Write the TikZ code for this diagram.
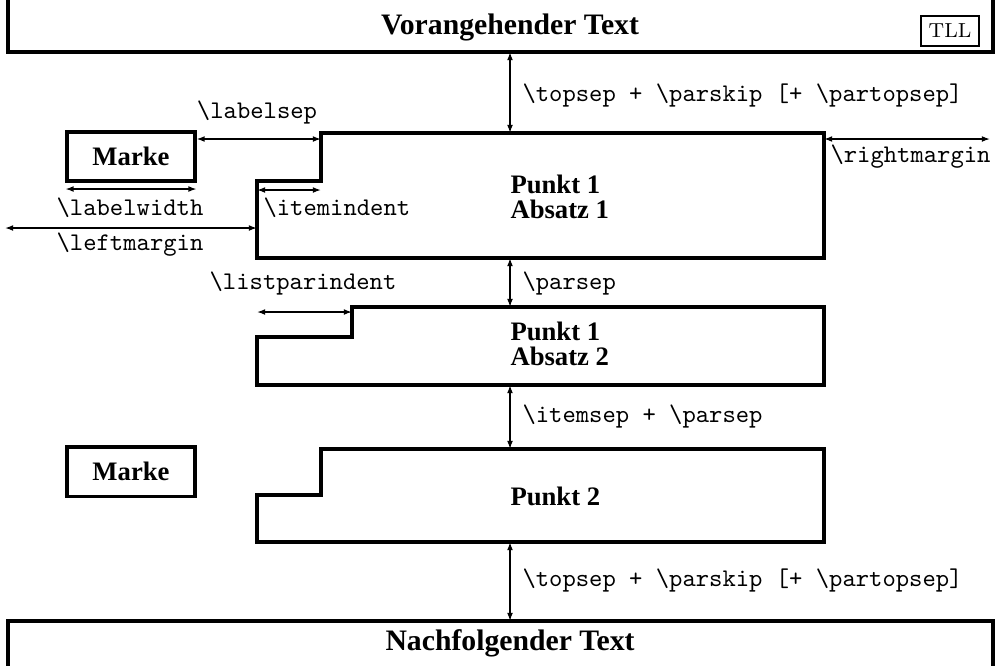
\documentclass[tikz,border=0pt]{standalone}
\usepackage{fontspec}
\newfontfamily\tms{Liberation Serif}
\usetikzlibrary{arrows.meta}
\begin{document}
\begin{tikzpicture}[x=0.3937pt,y=-0.3937pt,
  frame/.style={line width=1.2pt, line join=miter},
  dim/.style={line width=0.55pt, {Latex[length=3.2pt,width=2.3pt]}-{Latex[length=3.2pt,width=2.3pt]}},
  param/.style={font=\ttfamily, inner sep=0pt},
  bold/.style={font=\tms\bfseries\fontsize{10.5}{10}\selectfont, inner sep=0pt},
  heading/.style={font=\tms\bfseries\fontsize{11.7}{12}\selectfont, inner sep=0pt},
  markebox/.style={bold, draw, frame, minimum width=50.4pt, minimum height=19.3pt},
]
\useasboundingbox (0,0) rectangle (1003,665);

% surrounding text blocks
\draw[frame] (8,0) -- (8,52) -- (993,52) -- (993,0);
\node[heading] (prev) at (510,27) {Vorangehender Text};
\node[draw, line width=0.8pt, font=\footnotesize, inner sep=0pt,
      minimum width=22.8pt, minimum height=11.8pt] (tll) at (950,31) {TLL};
\draw[frame] (8,670) -- (8,621) -- (993,621) -- (993,670);
\node[heading] (next) at (510,643) {Nachfolgender Text};

% list items
\draw[frame] (321,133) -- (824,133) -- (824,258) -- (257,258) -- (257,181) -- (321,181) -- cycle;
\node[bold, anchor=west, align=left] (p1) at (510,197) {Punkt 1\\Absatz 1};
\draw[frame] (352,307) -- (824,307) -- (824,385) -- (257,385) -- (257,337) -- (352,337) -- cycle;
\node[bold, anchor=west, align=left] (p2) at (510,344) {Punkt 1\\Absatz 2};
\draw[frame] (321,449) -- (824,449) -- (824,542) -- (257,542) -- (257,495) -- (321,495) -- cycle;
\node[bold, anchor=west] (p3) at (510,496) {Punkt 2};

% labels
\node[markebox] (m1) at (131,156.5) {Marke};
\node[markebox] (m2) at (131,471.5) {Marke};

% dimension end points
\coordinate (t1) at (510,52);   \coordinate (t2) at (510,133);
\coordinate (ls1) at (m1.east |- 0,139); \coordinate (ls2) at (321,139);
\coordinate (rm1) at (824,139); \coordinate (rm2) at (990,139);
\coordinate (lw1) at (m1.west |- 0,189); \coordinate (lw2) at (m1.east |- 0,189);
\coordinate (ii1) at (257,190); \coordinate (ii2) at (321,190);
\coordinate (lm1) at (5,228);   \coordinate (lm2) at (257,228);
\coordinate (ps1) at (510,258); \coordinate (ps2) at (510,307);
\coordinate (lp1) at (257,312); \coordinate (lp2) at (352,312);
\coordinate (is1) at (510,385); \coordinate (is2) at (510,449);
\coordinate (b1) at (510,542);  \coordinate (b2) at (510,621);

\draw[dim] (t1) -- (t2);
\draw[dim] (ls1) -- (ls2);
\draw[dim] (rm1) -- (rm2);
\draw[dim] (lw1) -- (lw2);
\draw[dim] (ii1) -- (ii2);
\draw[dim] (lm1) -- (lm2);
\draw[dim] (ps1) -- (ps2);
\draw[dim] (lp1) -- (lp2);
\draw[dim] (is1) -- (is2);
\draw[dim] (b1) -- (b2);

% parameter names
\node[param, anchor=west] (top1) at (522,95) {\textbackslash topsep + \textbackslash parskip [+ \textbackslash partopsep]};
\node[param] (lsep) at (257,112) {\textbackslash labelsep};
\node[param, anchor=west] (rmar) at (830,157) {\textbackslash rightmargin};
\node[param] (lwid) at (130,208) {\textbackslash labelwidth};
\node[param, anchor=west] (iind) at (263,208) {\textbackslash itemindent};
\node[param] (lmar) at (130,245) {\textbackslash leftmargin};
\node[param, anchor=west] (psep) at (522,283) {\textbackslash parsep};
\node[param] (lpind) at (303,283) {\textbackslash listparindent};
\node[param, anchor=west] (isep) at (522,416) {\textbackslash itemsep + \textbackslash parsep};
\node[param, anchor=west] (top2) at (522,580) {\textbackslash topsep + \textbackslash parskip [+ \textbackslash partopsep]};
\end{tikzpicture}
\end{document}
